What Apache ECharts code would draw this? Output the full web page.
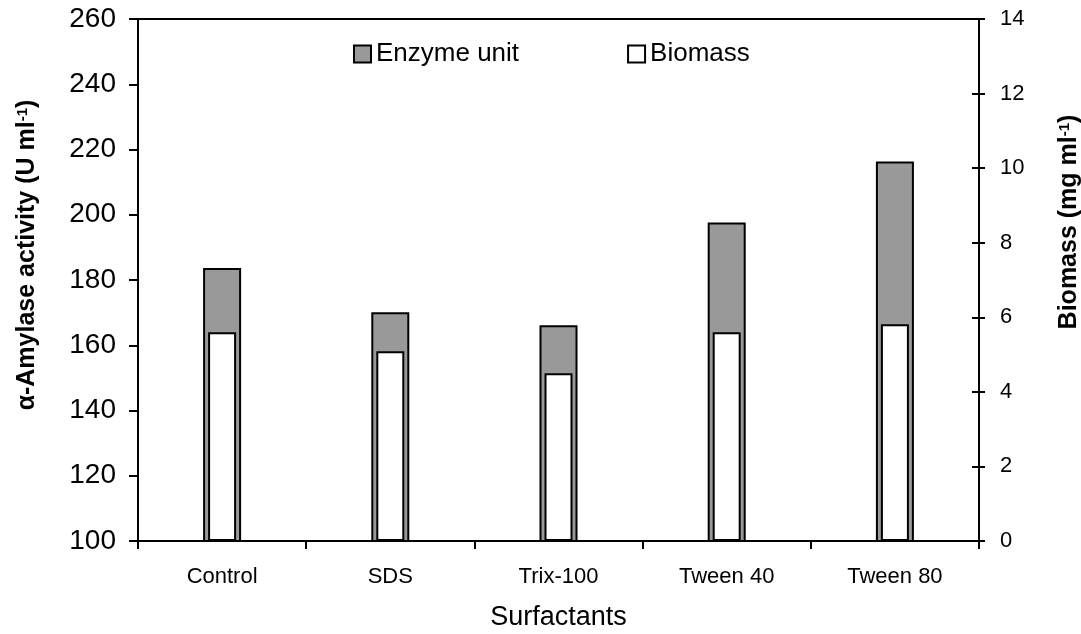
<!DOCTYPE html>
<html>
<head>
<meta charset="utf-8">
<script src="https://cdn.jsdelivr.net/npm/echarts@6/dist/echarts.min.js"></script>
<style>
html,body{margin:0;padding:0;background:#fff;}
#chart{width:1081px;height:634px;}
</style>
</head>
<body>
<div id="chart"></div>
<script>
const categories = ['Control', 'SDS', 'Trix-100', 'Tween 40', 'Tween 80'];
const enzymeUnit = [183.7, 170.1, 166.1, 197.6, 216.3];
const biomass = [5.6, 5.09, 4.5, 5.6, 5.81];

const FONT = '"Liberation Sans", Arial, sans-serif';
const chart = echarts.init(document.getElementById('chart'), null, {renderer: 'canvas'});

chart.setOption({
  animation: false,
  backgroundColor: '#fff',
  textStyle: {fontFamily: FONT, color: '#000'},
  grid: {left: 138, right: 102, top: 19, bottom: 93, containLabel: false, outerBoundsMode: 'none',
    show: true, borderColor: '#000', borderWidth: 2, backgroundColor: 'transparent'},
  legend: {
    left: 353, top: 41, padding: 0, itemWidth: 17, itemHeight: 17, itemGap: 108,
    icon: 'rect',
    textStyle: {fontFamily: FONT, fontSize: 26, color: '#000'},
    data: ['Enzyme unit', 'Biomass']
  },
  xAxis: [
    {
      type: 'category', data: categories, boundaryGap: true,
      name: 'Surfactants', nameLocation: 'middle', nameGap: 63,
      nameTextStyle: {fontFamily: FONT, fontSize: 27, color: '#000'},
      axisLine: {lineStyle: {color: '#000', width: 2}},
      axisTick: {show: true, length: 8, lineStyle: {color: '#000', width: 2}},
      axisLabel: {fontFamily: FONT, fontSize: 22, color: '#000', margin: 25}
    },
    {
      type: 'category', data: categories, boundaryGap: true, show: false
    }
  ],
  yAxis: [
    {
      type: 'value', position: 'left', min: 100, max: 260, interval: 20,
      name: 'α-Amylase activity (U ml{sup|-1})', nameLocation: 'middle', nameRotate: 90, nameGap: 98,
      nameTextStyle: {fontFamily: FONT, fontSize: 25, fontWeight: 'bold', color: '#000', padding: [0, 0, 0, 50],
        rich: {sup: {fontFamily: FONT, fontSize: 15, fontWeight: 'bold', color: '#000', verticalAlign: 'top', padding: [0, 0, 10, 0]}}},
      axisLine: {show: true, lineStyle: {color: '#000', width: 2}},
      axisTick: {show: true, length: 9, lineStyle: {color: '#000', width: 2}},
      axisLabel: {fontFamily: FONT, fontSize: 28, color: '#000', margin: 22},
      splitLine: {show: false}
    },
    {
      type: 'value', position: 'right', min: 0, max: 14, interval: 2,
      name: 'Biomass (mg ml{sup|-1})', nameLocation: 'middle', nameRotate: 90, nameGap: 78,
      nameTextStyle: {fontFamily: FONT, fontSize: 25, fontWeight: 'bold', color: '#000', padding: [0, 0, 0, 116],
        rich: {sup: {fontFamily: FONT, fontSize: 15, fontWeight: 'bold', color: '#000', verticalAlign: 'top', padding: [0, 0, 10, 0]}}},
      axisLine: {show: true, lineStyle: {color: '#000', width: 2}},
      axisTick: {show: true, length: 6, lineStyle: {color: '#000', width: 2}},
      axisLabel: {fontFamily: FONT, fontSize: 22, color: '#000', margin: 21},
      splitLine: {show: false}
    },
    {
      type: 'value', position: 'right', min: 0, max: 14, interval: 2,
      axisLine: {show: false},
      axisTick: {show: true, inside: true, length: 7, lineStyle: {color: '#000', width: 2}},
      axisLabel: {show: false},
      splitLine: {show: false}
    }
  ],
  series: [
    {
      name: 'Enzyme unit', type: 'bar', xAxisIndex: 0, yAxisIndex: 0,
      data: enzymeUnit, barWidth: 38,
      itemStyle: {color: '#999999', borderColor: '#000', borderWidth: 2}
    },
    {
      name: 'Biomass', type: 'bar', xAxisIndex: 1, yAxisIndex: 1,
      data: biomass, barWidth: 28,
      itemStyle: {color: '#ffffff', borderColor: '#000', borderWidth: 2}
    }
  ]
});
</script>
</body>
</html>
